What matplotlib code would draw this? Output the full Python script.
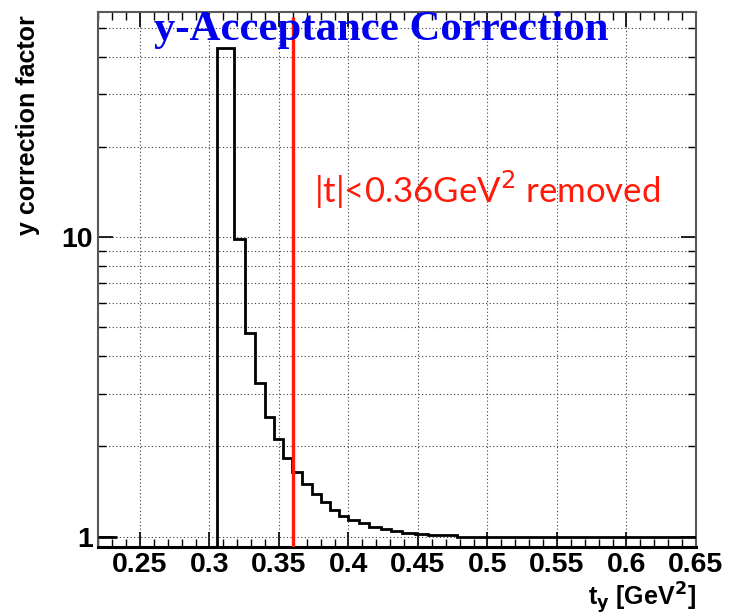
import numpy as np
import matplotlib
matplotlib.use("Agg")
from matplotlib import pyplot as plt
from matplotlib.ticker import MultipleLocator, FixedLocator, FuncFormatter, NullFormatter

# bin edges in t_y [GeV^2] and correction factor per bin (0 = empty bin)
edges = [0.22, 0.2337, 0.3056, 0.3174, 0.3253, 0.3327, 0.3399, 0.3466, 0.3530,
         0.3593, 0.3667, 0.3735, 0.3799, 0.3866, 0.3929, 0.3998, 0.4075, 0.4149,
         0.4231, 0.4305, 0.4385, 0.4481, 0.4572, 0.4780, 0.65]
factor = [1.0, 0.0, 42.7, 9.85, 4.77, 3.25, 2.51, 2.11, 1.83, 1.64, 1.50, 1.39,
          1.30, 1.23, 1.17, 1.14, 1.11, 1.08, 1.06, 1.04, 1.03, 1.02, 1.01, 1.0]
t_cut = 0.36

ymin, ymax = 0.925, 56.4

fig = plt.figure(figsize=(7.29, 6.16), dpi=100)
ax = fig.add_axes([0.1348, 0.1125, 0.8199, 0.868])
ax.set_yscale("log")
ax.set_xlim(0.22, 0.65)
ax.set_ylim(ymin, ymax)

# empty bins sit on the bottom of the frame like in ROOT
vals = np.where(np.array(factor) > 0, factor, ymin)
ax.stairs(vals[:1], edges[:2], baseline=None, color="black", lw=2.0, zorder=3)
ax.stairs(vals[1:], edges[1:], baseline=None, color="black", lw=2.0, zorder=3)

ax.vlines(t_cut, ymin, 54.2, color="#ff1a0a", lw=2.4, zorder=4)

fig.text(0.523, 0.951, "y-Acceptance Correction", ha="center", va="center",
         color="#0000ee", fontsize=30.8, fontweight="bold", family="Liberation Serif")
ax.text(0.375, 14.4, "|t|<0.36GeV$^2$ removed", color="#ff1a0a", fontsize=25,
        family="Lato", ha="left", va="center")

# axes, ticks and grid
ax.xaxis.set_major_locator(MultipleLocator(0.05))
ax.xaxis.set_minor_locator(MultipleLocator(0.01))
ax.xaxis.set_major_formatter(FuncFormatter(lambda v, p: f"{v:g}"))
ax.yaxis.set_major_locator(FixedLocator([1, 10]))
ax.yaxis.set_minor_locator(FixedLocator([2, 3, 4, 5, 6, 7, 8, 9, 20, 30, 40, 50]))
ax.yaxis.set_major_formatter(FuncFormatter(lambda v, p: f"{v:g}"))
ax.yaxis.set_minor_formatter(NullFormatter())

ax.tick_params(which="both", direction="in", top=True, right=True, color="black")
ax.tick_params(which="major", length=11, width=1.2, labelsize=20.5)
ax.tick_params(axis="x", which="major", pad=4)
ax.tick_params(axis="y", which="major", pad=4)
ax.tick_params(which="minor", length=5.5, width=1.0)
for lab in ax.get_xticklabels() + ax.get_yticklabels():
    lab.set_fontweight("bold")
    lab.set_family("Liberation Sans")

ax.grid(True, which="major", axis="x", ls=(0, (1, 2.2)), lw=0.8, color="0.25")
ax.grid(True, which="both", axis="y", ls=(0, (1, 2.2)), lw=0.8, color="0.25")
for s in ax.spines.values():
    s.set_linewidth(1.5)
    s.set_color("0.35")
ax.spines["bottom"].set_color("black")
ax.spines["bottom"].set_linewidth(2.2)

fig.text(0.955, 0.017, "t$_\\mathbf{y}$ [GeV$^\\mathbf{2}$]", fontsize=18,
         fontweight="bold", family="Liberation Sans", ha="right", va="baseline")
ax.set_ylabel("y correction factor", fontsize=18, fontweight="bold",
              family="Liberation Sans", loc="top")
ax.yaxis.set_label_coords(-0.0975, 0.994)

fig.savefig("out.png", dpi=100)
